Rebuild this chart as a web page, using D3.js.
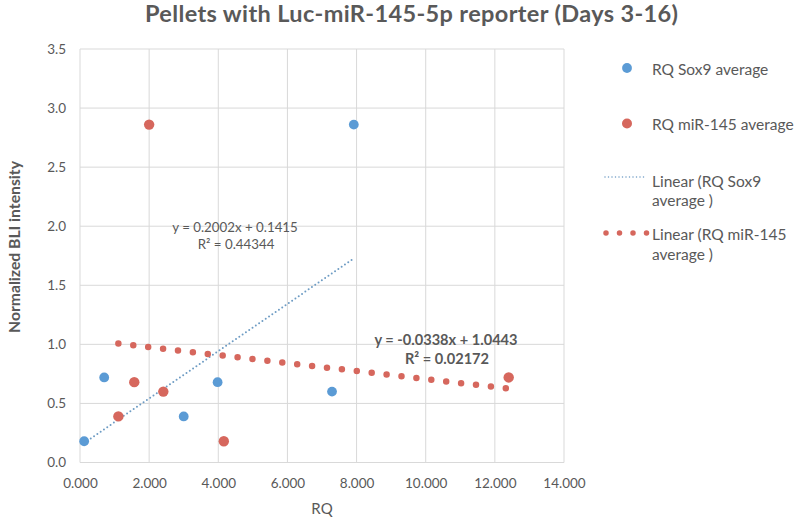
<!DOCTYPE html>
<html>
<head>
<meta charset="utf-8">
<script src="https://cdn.jsdelivr.net/npm/d3@7"></script>
<style>
  body { margin: 0; background: #fff; }
  svg { font-family: Lato, "Open Sans", sans-serif; }
</style>
</head>
<body>
<svg id="chart" width="800" height="521"></svg>
<script>
// ---- Data ----
const sox9X = [0.12, 0.70, 3.00, 3.98, 7.29, 7.92];
const sox9Y = [0.18, 0.72, 0.39, 0.68, 0.60, 2.86];
const mirX  = [1.11, 1.57, 2.41, 4.16, 12.40, 2.00];
const mirY  = [0.39, 0.68, 0.60, 0.18, 0.72, 2.86];
const sox9Fit = { slope: 0.2002, intercept: 0.1415 };
const mirFit  = { slope: -0.0338, intercept: 1.0443 };
const sox9Eq = ["y = 0.2002x + 0.1415", "R² = 0.44344"];
const mirEq  = ["y = -0.0338x + 1.0443", "R² = 0.02172"];
const xTicks = [0, 2, 4, 6, 8, 10, 12, 14];
const yTicks = [0, 0.5, 1.0, 1.5, 2.0, 2.5, 3.0, 3.5];
const legendLabels = ["RQ Sox9 average", "RQ miR-145 average", ["Linear (RQ Sox9", "average )"], ["Linear (RQ miR-145", "average )"]];
const titleText = "Pellets with Luc-miR-145-5p reporter (Days 3-16)";

// ---- Styles ----
const blue = "#5b9bd5", red = "#d6675d", textCol = "#595959", gridCol = "#d9d9d9", trendBlue = "#6e9cc4";

const svg = d3.select("#chart");
const x = d3.scaleLinear().domain([0, 14]).range([80, 564]);
const y = d3.scaleLinear().domain([0, 3.5]).range([462.5, 49]);

// Grid
svg.append("g").selectAll("line").data(xTicks).join("line")
  .attr("x1", d => x(d)).attr("x2", d => x(d)).attr("y1", y(0)).attr("y2", y(3.5))
  .attr("stroke", gridCol).attr("stroke-width", 1);
svg.append("g").selectAll("line").data(yTicks).join("line")
  .attr("x1", x(0)).attr("x2", x(14)).attr("y1", d => y(d)).attr("y2", d => y(d))
  .attr("stroke", gridCol).attr("stroke-width", 1);

// Axes (labels only)
const xAxis = svg.append("g").attr("transform", `translate(0,${y(0)})`)
  .call(d3.axisBottom(x).tickValues(xTicks).tickFormat(d3.format(",.3f")).tickSize(0).tickPadding(16));
const yAxis = svg.append("g").attr("transform", `translate(${x(0)},0)`)
  .call(d3.axisLeft(y).tickValues(yTicks).tickFormat(d3.format(".1f")).tickSize(0).tickPadding(14));
[xAxis, yAxis].forEach(a => {
  a.select(".domain").remove();
  a.selectAll("text").attr("fill", textCol).style("font-size", "13.5px").style("font-family", "Lato, sans-serif");
});

// Trendlines
function fitLine(xs, fit) {
  const x0 = d3.min(xs), x1 = d3.max(xs);
  return [[x0, fit.slope * x0 + fit.intercept], [x1, fit.slope * x1 + fit.intercept]];
}
const line = d3.line().x(d => x(d[0])).y(d => y(d[1]));
svg.append("path").datum(fitLine(sox9X, sox9Fit)).attr("d", line)
  .attr("fill", "none").attr("stroke", trendBlue).attr("stroke-width", 2)
  .attr("stroke-linecap", "round").attr("stroke-dasharray", "0 4");
svg.append("path").datum(fitLine(mirX, mirFit)).attr("d", line)
  .attr("fill", "none").attr("stroke", red).attr("stroke-width", 6.5)
  .attr("stroke-linecap", "round").attr("stroke-dasharray", "0 15");

// Points
svg.append("g").selectAll("circle").data(d3.zip(sox9X, sox9Y)).join("circle")
  .attr("cx", d => x(d[0])).attr("cy", d => y(d[1])).attr("r", 4.9).attr("fill", blue);
svg.append("g").selectAll("circle").data(d3.zip(mirX, mirY)).join("circle")
  .attr("cx", d => x(d[0])).attr("cy", d => y(d[1])).attr("r", 5.2).attr("fill", red);

// Equations
svg.append("text").attr("x", 235).attr("y", 232).attr("text-anchor", "middle")
  .attr("fill", textCol).style("font-size", "13.3px").text(sox9Eq[0]);
svg.append("text").attr("x", 236).attr("y", 249).attr("text-anchor", "middle")
  .attr("fill", textCol).style("font-size", "13.3px").text(sox9Eq[1]);
svg.append("text").attr("x", 446).attr("y", 345).attr("text-anchor", "middle")
  .attr("fill", textCol).style("font-size", "14.6px").style("font-weight", "bold").text(mirEq[0]);
svg.append("text").attr("x", 447).attr("y", 364).attr("text-anchor", "middle")
  .attr("fill", textCol).style("font-size", "14.6px").style("font-weight", "bold").text(mirEq[1]);

// Title
svg.append("text").attr("x", 411.5).attr("y", 22).attr("text-anchor", "middle")
  .attr("fill", textCol).style("font-size", "23.5px").style("font-weight", "bold")
  .attr("textLength", 533).attr("lengthAdjust", "spacing").text(titleText);

// Axis titles
svg.append("text").attr("x", 322).attr("y", 514).attr("text-anchor", "middle")
  .attr("fill", textCol).style("font-size", "15px").text("RQ");
svg.append("text").attr("transform", "translate(20,247) rotate(-90)").attr("text-anchor", "middle")
  .attr("fill", textCol).style("font-size", "15px").style("font-weight", "bold")
  .attr("textLength", 172).attr("lengthAdjust", "spacingAndGlyphs").text("Normalized BLI intensity");

// Legend
const lg = svg.append("g");
const lx = 652, fs = "15.5px";
lg.append("circle").attr("cx", 627).attr("cy", 68).attr("r", 4.9).attr("fill", blue);
lg.append("text").attr("x", lx).attr("y", 75).attr("fill", textCol).style("font-size", fs).text(legendLabels[0]);
lg.append("circle").attr("cx", 627).attr("cy", 123.5).attr("r", 5).attr("fill", red);
lg.append("text").attr("x", lx).attr("y", 130).attr("fill", textCol).style("font-size", fs).text(legendLabels[1]);
lg.append("line").attr("x1", 605).attr("x2", 647).attr("y1", 177).attr("y2", 177)
  .attr("stroke", trendBlue).attr("stroke-width", 1.5).attr("stroke-linecap", "round").attr("stroke-dasharray", "0 3.5");
lg.append("text").attr("x", lx).attr("y", 186.5).attr("fill", textCol).style("font-size", fs).text(legendLabels[2][0]);
lg.append("text").attr("x", lx).attr("y", 206).attr("fill", textCol).style("font-size", fs).text(legendLabels[2][1]);
lg.append("line").attr("x1", 606).attr("x2", 647).attr("y1", 233).attr("y2", 233)
  .attr("stroke", red).attr("stroke-width", 5.5).attr("stroke-linecap", "round").attr("stroke-dasharray", "0 13.5");
lg.append("text").attr("x", lx).attr("y", 240).attr("fill", textCol).style("font-size", fs).text(legendLabels[3][0]);
lg.append("text").attr("x", lx).attr("y", 260).attr("fill", textCol).style("font-size", fs).text(legendLabels[3][1]);
</script>
</body>
</html>
